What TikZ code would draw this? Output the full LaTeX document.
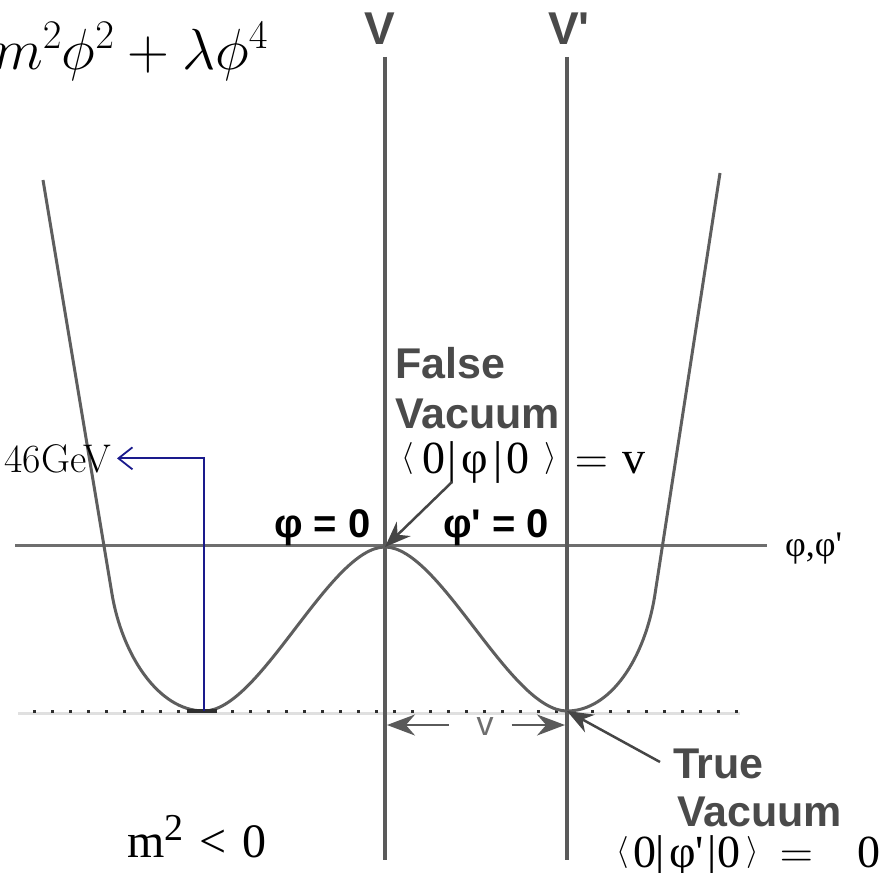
\RequirePackage{fix-cm}
\documentclass[tikz,border=0pt]{standalone}
\usepackage{fontspec}
\usetikzlibrary{arrows.meta,calc}
\newfontfamily\lsans{Liberation Sans}[Ligatures=TeXOff]
\newfontfamily\lserif{Liberation Serif}[Ligatures=TeXOff]
\definecolor{axisgray}{HTML}{6E6E6E}
\definecolor{vgray}{HTML}{5A5A5A}
\definecolor{curvegray}{HTML}{5E5E5E}
\definecolor{labgray}{HTML}{4A4A4A}
\definecolor{navyblue}{HTML}{1A1A8C}
\definecolor{dotgray}{HTML}{2E2E2E}
\definecolor{ptrgray}{HTML}{454545}
\newcommand{\fs}[1]{\fontsize{#1}{#1}\selectfont}
\newcommand{\lbr}{\raisebox{7pt}{\fs{32}$\langle$}}
\newcommand{\rbr}{\raisebox{7pt}{\fs{32}$\rangle$}}
\newcommand{\gb}[2]{\makebox[#1pt][c]{#2}}
\begin{document}
\begin{tikzpicture}[x=1pt,y=-1pt,
  lab/.style={inner sep=0pt, outer sep=0pt},
  vaclab/.style={lab, anchor=base west, font={\lsans\bfseries\fs{43}}, text=labgray},
  vlabel/.style={lab, anchor=base west, font={\lsans\bfseries\fs{46}}, text=labgray},
  eqlab/.style={lab, anchor=base west, font={\lserif\fs{46}}},
  philab/.style={lab, anchor=base west, font={\lsans\bfseries\fs{40}}},
  vline/.style={line width=3.2pt, draw=vgray},
  axisline/.style={line width=3pt, draw=axisgray},
  curve/.style={line width=3pt, draw=curvegray},
  ptr/.style={line width=2.5pt, draw=ptrgray, -{Stealth[length=26pt,width=20pt]}},
  varr/.style={line width=2.5pt, draw=vgray, -{Stealth[length=28pt,width=21pt]}},
  bluearr/.style={line width=1.8pt, draw=navyblue, -{Straight Barb[length=14pt,width=22pt]}}
]
\useasboundingbox (0,0) rectangle (893,872);
\clip (0,0) rectangle (893,872);

% level of the minima
\draw[line width=3pt, draw=black!12] (18,713) -- (740,713);
\draw[line width=3pt, draw=dotgray, dash pattern=on 3pt off 15pt] (33,711) -- (740,711);

% axes
\draw[axisline] (15,545) -- (767,545);
\draw[vline] (385,57) -- (385,860);
\draw[vline] (567,57) -- (567,860);

% potential curve
\coordinate (Lt) at (43,180);
\coordinate (Lmin) at (204,711);
\coordinate (Top) at (385,547);
\coordinate (Rmin) at (567,711);
\coordinate (Rt) at (720,173);
\draw[curve] (Lt) -- (112,594) .. controls (122,654) and (158,711) .. (Lmin)
  .. controls (260,711) and (330,547) .. (Top)
  .. controls (440,547) and (510,711) .. (Rmin)
  .. controls (610,711) and (645,659) .. (655,594) -- (Rt);
\draw[line width=3.5pt, draw=dotgray] (187,711) -- (217,711);

% texts
\node[lab, anchor=base east, font=\fs{58}] (pot) at (268,70) {$m^2\phi^2+\lambda\phi^4$};
\node[lab, anchor=base east, font=\fs{40}] (gev) at (111,472) {46GeV};
\node[vlabel] (vV) at (364,45) {V};
\node[vlabel] (vVp) at (548,45) {V'};

\node[vaclab] (false) at (395,378) {False};
\node[vaclab] (fvac) at (395,428) {Vacuum};
\node[eqlab] (feq) at (396,473) {\gb{23}{\lbr}\gb{29}{0}\gb{8}{|}\gb{38}{φ}\gb{8}{|}\gb{33}{0}\gb{32}{\rbr}\gb{49}{$=$}\gb{36}{v}};

\node[vaclab] (true) at (673,778) {True};
\node[vaclab] (tvac) at (677,826) {Vacuum};
\node[eqlab] (teq) at (612,867) {\gb{22}{\lbr}\gb{21}{0}\gb{10}{|}\gb{43}{φ'}\gb{8}{|}\gb{27}{0}\gb{19}{\rbr}\gb{69}{$=$}\gb{75}{0}};

\node[philab] (phi0) at (274,537) {φ = 0};
\node[philab] (phip0) at (443,537) {φ' = 0};
\node[lab, anchor=base west, font={\lserif\fs{36}}] (axlab) at (785,556) {φ,φ'};

\node[lab, anchor=base west, font={\lserif\fs{48}}] (mneg) at (127,857) {m\raisebox{17pt}{\fs{38}2}\hspace{16pt}<\hspace{16pt}0};

\node[lab, font={\lsans\fs{34}}, text=axisgray] (vlab) at (485,727) {v};

% connectors
\coordinate (vtipL) at (387,725);
\coordinate (vtipR) at (565,725);
\draw[varr] (vlab.west) ++(-28,-2) -- (vtipL);
\draw[varr] (vlab.east) ++(18,-2) -- (vtipR);

\draw[ptr] (452,482) -- (Top);
\draw[ptr] (660,762) -- (Rmin);

\draw[bluearr] (Lmin) |- ($(gev.east)+(6,0)$);
\end{tikzpicture}
\end{document}
